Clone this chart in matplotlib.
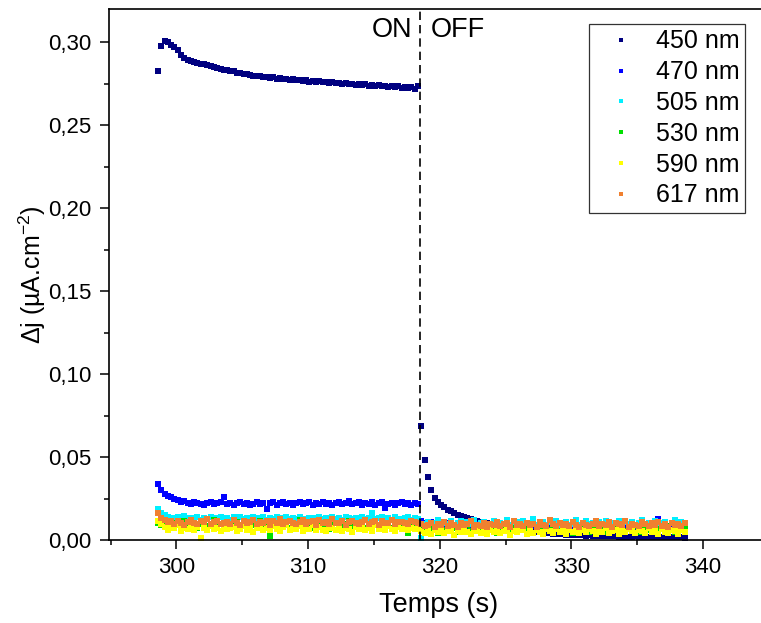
import numpy as np
import matplotlib
matplotlib.use('Agg')
import matplotlib.pyplot as plt
from matplotlib.ticker import MultipleLocator, FuncFormatter

plt.rcParams['font.family'] = ['Liberation Sans', 'DejaVu Sans']
plt.rcParams['mathtext.fontset'] = 'custom'
plt.rcParams['mathtext.rm'] = 'Liberation Sans'
plt.rcParams['mathtext.it'] = 'Liberation Sans:italic'

# sampling: first point at 298.6 s, one point every 0.25 s; light OFF after 318.5 s
t_start = 298.6
t_step = 0.25
t_switch = 318.5

labels = ['450 nm', '470 nm', '505 nm', '530 nm', '590 nm', '617 nm']
colors = ['#000080', '#0000ff', '#00f0ff', '#00e000', '#ffff00', '#f08030']

# photocurrent, in units of 1e-4 uA.cm-2
dj_450 = [2827, 2980, 3008, 3000, 2985, 2968, 2950, 2925, 2905, 2895,
          2885, 2880, 2874, 2870, 2868, 2860, 2856, 2850, 2845, 2840,
          2835, 2832, 2826, 2824, 2816, 2815, 2808, 2806, 2800, 2798,
          2795, 2798, 2790, 2792, 2786, 2788, 2780, 2783, 2776, 2780,
          2772, 2776, 2770, 2772, 2766, 2770, 2762, 2766, 2760, 2764,
          2758, 2762, 2754, 2758, 2752, 2755, 2748, 2753, 2746, 2750,
          2744, 2748, 2740, 2746, 2738, 2742, 2736, 2740, 2733, 2738,
          2730, 2735, 2728, 2733, 2725, 2730, 2722, 2728, 2720, 2738,
          690, 480, 380, 300, 255, 228, 210, 196, 183, 172,
          162, 153, 146, 140, 133, 127, 121, 116, 110, 105,
          100, 95, 91, 86, 82, 78, 74, 71, 67, 64,
          61, 58, 56, 53, 51, 48, 46, 44, 42, 41,
          39, 37, 36, 34, 33, 32, 31, 30, 29, 30,
          27, 28, 26, 25, 26, 24, 23, 25, 22, 23,
          21, 22, 20, 21, 19, 22, 20, 18, 21, 19,
          18, 20, 17, 19, 18, 17, 19, 16, 18, 17,
          15]
dj_470 = [335, 300, 280, 268, 258, 250, 242, 232, 238, 225,
          218, 230, 222, 215, 208, 220, 226, 214, 221, 228,
          262, 218, 225, 212, 222, 230, 216, 224, 208, 219,
          226, 215, 222, 184, 220, 228, 213, 221, 230, 217,
          225, 210, 222, 229, 214, 220, 226, 212, 223, 219,
          231, 216, 224, 210, 221, 228, 215, 222, 235, 214,
          220, 226, 211, 223, 218, 230, 213, 221, 226, 190,
          219, 225, 212, 222, 228, 215, 221, 208, 224, 218,
          115, 105, 98, 110, 92, 100, 88, 95, 102, 85,
          93, 80, 98, 87, 76, 92, 84, 95, 79, 88,
          90, 74, 86, 95, 81, 70, 89, 78, 92, 83,
          72, 87, 94, 76, 85, 68, 90, 80, 73, 88,
          82, 66, 91, 77, 84, 70, 86, 79, 93, 74,
          65, 85, 78, 88, 71, 80, 92, 67, 83, 76,
          89, 72, 79, 64, 86, 75, 82, 70, 90, 77,
          68, 84, 125, 73, 80, 66, 87, 78, 71, 83,
          69]
dj_505 = [185, 160, 148, 140, 135, 132, 138, 128, 142, 130,
          126, 135, 140, 122, 133, 128, 137, 124, 131, 139,
          127, 134, 120, 136, 129, 141, 125, 132, 118, 137,
          130, 126, 139, 123, 134, 128, 136, 121, 131, 138,
          127, 133, 124, 140, 129, 122, 135, 130, 126, 138,
          125, 132, 119, 136, 128, 134, 123, 139, 130, 126,
          133, 121, 137, 128, 135, 162, 124, 131, 138, 127,
          133, 120, 136, 129, 125, 134, 140, 122, 131, 128,
          10, 95, 110, 85, 102, 118, 90, 105, 98, 112,
          88, 100, 115, 93, 107, 96, 120, 86, 103, 110,
          92, 99, 114, 87, 105, 97, 118, 90, 102, 108,
          84, 112, 95, 104, 125, 89, 100, 110, 93, 106,
          98, 115, 86, 102, 109, 91, 97, 120, 88, 104,
          112, 94, 100, 86, 108, 96, 117, 90, 103, 99,
          113, 85, 106, 95, 110, 92, 101, 118, 89, 104,
          97, 114, 91, 100, 108, 87, 103, 122, 94, 110,
          98]
dj_530 = [100, 92, 85, 98, 80, 105, 88, 76, 112, 90,
          84, 99, 70, 95, 108, 82, 91, 120, 78, 96,
          87, 104, 73, 93, 110, 85, 97, 68, 101, 89,
          79, 115, 92, 84, 25, 98, 76, 106, 88, 95,
          72, 103, 86, 118, 81, 94, 100, 74, 90, 109,
          83, 97, 66, 92, 105, 87, 80, 99, 112, 77,
          94, 85, 102, 71, 96, 88, 108, 79, 93, 84,
          100, 75, 97, 110, 86, 91, 45, 98, 82, 104,
          60, 75, 52, 68, 80, 45, 72, 63, 85, 55,
          70, 48, 78, 62, 90, 57, 66, 74, 50, 82,
          64, 58, 76, 43, 70, 88, 56, 65, 73, 49,
          81, 60, 67, 54, 95, 62, 71, 47, 78, 58,
          84, 65, 52, 74, 61, 69, 45, 80, 57, 66,
          72, 50, 86, 63, 55, 77, 48, 70, 62, 91,
          56, 68, 53, 75, 60, 82, 46, 71, 64, 58,
          79, 51, 67, 73, 55, 85, 61, 49, 76, 63,
          70]
dj_590 = [112, 95, 78, 60, 85, 70, 92, 55, 74, 66,
          88, 62, 79, 12, 70, 58, 83, 67, 75, 52,
          90, 64, 72, 80, 57, 69, 86, 61, 76, 50,
          73, 95, 63, 70, 58, 82, 66, 54, 77, 89,
          60, 71, 65, 84, 53, 74, 68, 92, 59, 78,
          63, 55, 81, 70, 62, 87, 57, 73, 66, 50,
          79, 68, 85, 61, 72, 56, 90, 64, 75, 58,
          83, 67, 52, 76, 69, 88, 60, 71, 65, 78,
          55, 40, 62, 35, 58, 48, 70, 42, 53, 65,
          30, 57, 46, 72, 50, 38, 61, 54, 44, 68,
          36, 59, 49, 75, 41, 56, 63, 33, 52, 47,
          66, 58, 39, 71, 45, 60, 50, 37, 64, 55,
          43, 69, 48, 57, 34, 62, 51, 74, 40, 58,
          46, 65, 53, 38, 60, 49, 70, 42, 56, 63,
          35, 59, 47, 67, 52, 41, 61, 55, 44, 72,
          48, 57, 39, 64, 50, 45, 62, 53, 36, 58,
          49]
dj_617 = [160, 132, 118, 108, 112, 98, 115, 104, 92, 110,
          120, 101, 95, 113, 106, 125, 99, 108, 116, 94,
          103, 111, 97, 119, 105, 90, 114, 102, 109, 122,
          96, 107, 100, 117, 93, 112, 104, 128, 98, 110,
          115, 101, 94, 108, 120, 99, 106, 113, 91, 118,
          103, 109, 97, 126, 105, 100, 114, 92, 108, 117,
          102, 95, 111, 121, 98, 106, 112, 93, 115, 104,
          100, 119, 96, 108, 110, 103, 94, 116, 107, 101,
          98, 82, 90, 105, 78, 95, 88, 110, 84, 100,
          92, 76, 104, 89, 96, 115, 81, 93, 87, 102,
          79, 98, 91, 108, 85, 94, 100, 77, 112, 88,
          96, 83, 105, 90, 99, 80, 107, 92, 86, 118,
          95, 82, 101, 89, 97, 84, 110, 91, 78, 104,
          93, 87, 99, 116, 83, 96, 90, 106, 81, 102,
          94, 88, 113, 79, 98, 92, 85, 107, 96, 83,
          100, 89, 111, 86, 95, 80, 104, 91, 97, 85,
          101]

series = [dj_450, dj_470, dj_505, dj_530, dj_590, dj_617]

fig = plt.figure(figsize=(7.61, 6.23), dpi=100)
ax = fig.add_axes([109 / 761, 83 / 623, 660 / 761, 531 / 623])

for vals, lab, col in zip(series, labels, colors):
    t = t_start + t_step * np.arange(len(vals))
    ax.plot(t, np.array(vals) * 1e-4, ls='none', marker='s', ms=3.8,
            mew=0, color=col, label=lab)

ax.axvline(t_switch, color='black', ls=(0, (5, 3)), lw=1.2)
ax.text(t_switch - 0.6, 0.315, 'ON', ha='right', va='top', fontsize=19.5)
ax.text(t_switch + 0.8, 0.315, 'OFF', ha='left', va='top', fontsize=19.5)

ax.set_xlim(294.88, 345)
ax.set_ylim(0, 0.32)
ax.xaxis.set_major_locator(MultipleLocator(10))
ax.xaxis.set_minor_locator(MultipleLocator(5))
ax.yaxis.set_major_locator(MultipleLocator(0.05))
ax.yaxis.set_minor_locator(MultipleLocator(0.025))
ax.yaxis.set_major_formatter(FuncFormatter(lambda v, p: f'{v:.2f}'.replace('.', ',')))

ax.tick_params(which='both', direction='out', top=False, right=False, width=1.1)
ax.tick_params(which='major', length=6.5, labelsize=16, pad=6)
ax.tick_params(which='minor', length=3.5)
for sp in ax.spines.values():
    sp.set_linewidth(1.2)

ax.set_xlabel('Temps (s)', fontsize=19.5, labelpad=9.5)
ax.set_ylabel('\u0394j (\u00b5A.cm$^{-2}$)', fontsize=18, labelpad=0)

leg = ax.legend(loc='upper right', bbox_to_anchor=(745 / 761, 599 / 623),
                bbox_transform=fig.transFigure, borderaxespad=0, fontsize=18,
                frameon=True, fancybox=False, framealpha=1, edgecolor='#333333',
                labelspacing=0.27, handlelength=2.1, handletextpad=0.36,
                borderpad=0.22, markerscale=0.85)
leg.get_frame().set_linewidth(0.9)

fig.savefig('out.png', dpi=100)
